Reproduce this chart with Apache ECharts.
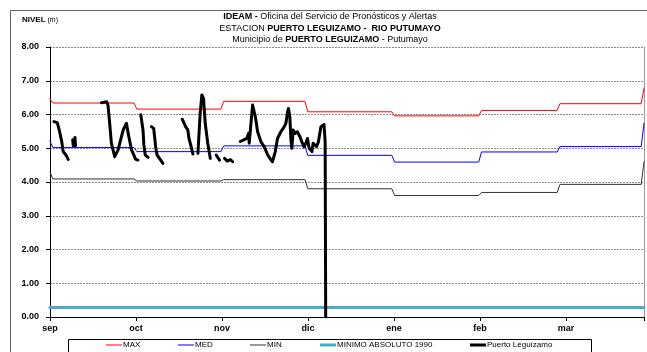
<!DOCTYPE html>
<html>
<head>
<meta charset="utf-8">
<script src="https://cdn.jsdelivr.net/npm/echarts@6/dist/echarts.min.js"></script>
<style>
  html, body { margin: 0; padding: 0; background: #fff; }
  #chart { width: 647px; height: 352px; }
</style>
</head>
<body>
<div id="chart"></div>
<script>
// x is counted in days from the start of the hydrological window (31 ago = 0)
const tickDays = 30.69
const lastDay = 212
const monthLabels = ['sep', 'oct', 'nov', 'dic', 'ene', 'feb', 'mar']
const monthFirstDay = [1, 31, 62, 92, 123, 154, 182]
const monthLastDay = [30, 61, 91, 122, 153, 181, 211]

// monthly statistics (m) and the readings on the first / last day of the window
const maxMonthly = [6.34, 6.16, 6.39, 6.08, 5.96, 6.12, 6.32]
const maxEdges = [6.46, 6.78]
const medMonthly = [5.02, 4.90, 5.07, 4.79, 4.59, 4.89, 5.05]
const medEdges = [5.21, 5.74]
const minMonthly = [4.09, 4.03, 4.07, 3.80, 3.60, 3.69, 3.93]
const minEdges = [4.30, 4.60]
const minAbs1990 = 0.28

// observed levels, Puerto Leguizamo (null = no reading)
const obsDays = [
  1.4, 2.6, 3.3, 4.2, 4.7, 5.7, 6.5, 7.3,
  8.1, 8.3, 8.6, 8.9, 9.1, 12,
  18.4, 20.2, 20.7, 21.3, 21.9, 23.1, 24.3, 26.1, 27.3, 27.9, 29.1, 30.6, 31.4, 31.9,
  32.4, 33.2, 33.5, 34.0, 35.0, 35.6,
  36.2, 37.0, 37.4, 37.7, 38.2, 39.5, 40.3, 44,
  47.2, 47.7, 48.4, 49.2, 49.6, 50.4, 51.0, 52,
  52.8, 53.6, 54.2, 54.8, 55.4, 56.3, 57.2, 58,
  59.3, 60.5, 61,
  62.3, 63.3, 64.4, 65.2, 67,
  67.9, 69.0, 70.2, 70.9, 71.1, 72.3, 72.9, 73.3, 74.1, 75.3, 76.5, 77.7, 78.5, 79.4,
  80.4, 81.2, 82.4, 83.6, 84.2, 84.8, 85.1, 85.6, 86.0, 86.3, 86.8, 87.5, 88.3, 89.2,
  89.9, 90.7, 91.3, 91.9, 92.5, 93.5, 93.9, 95.1, 95.8, 96.7, 97.8, 98.2, 98.4
]
const obsLevels = [
  5.79, 5.76, 5.54, 5.19, 4.90, 4.80, 4.67, null,
  5.25, 5.08, null, 5.32, 5.08, null,
  6.35, 6.38, 6.28, 5.74, 5.15, 4.75, 4.95, 5.54, 5.74, 5.44, 4.95, 4.67, 4.65, null,
  5.99, 5.54, 5.10, 4.80, 4.73, null,
  5.64, 5.59, 5.29, 5.04, 4.80, 4.65, 4.55, null,
  5.86, 5.89, 5.64, 5.54, 5.29, 5.04, 4.83, null,
  4.85, 6.04, 6.58, 6.48, 5.74, 5.15, 4.70, null,
  4.80, 4.65, null,
  4.70, 4.62, 4.66, 4.60, null,
  5.20, 5.24, 5.29, 5.44, 5.15, 6.28, 6.33, 5.93, 5.49, 5.19, 5.04, 4.80, 4.70, 4.60,
  4.90, 5.29, 5.49, 5.64, 5.74, 6.08, 6.18, 5.93, 5.24, 5.00, 5.54, 5.44, 5.49, 5.34,
  5.19, 5.04, 5.15, 5.29, 5.00, 4.90, 5.15, 5.05, 5.19, 5.64, 5.70, 5.20, 0
]

const FONT = 'Liberation Sans, Arial, sans-serif'

function monthlySteps (monthly, edges) {
  const pts = [[0, edges[0]]]
  monthly.forEach((v, i) => {
    pts.push([monthFirstDay[i], v])
    pts.push([monthLastDay[i], v])
  })
  pts.push([lastDay, edges[1]])
  return pts
}

const obsData = obsDays.map((d, i) => [d, obsLevels[i] == null ? '-' : obsLevels[i]])

function lineSeries (name, data, color, width) {
  return {
    name: name,
    type: 'line',
    data: data,
    showSymbol: false,
    symbol: 'none',
    silent: true,
    lineStyle: { color: color, width: width, cap: 'round', join: 'round' },
    itemStyle: { color: color },
    emphasis: { disabled: true }
  }
}

function legendAt (name, left, height) {
  return {
    data: [name],
    left: left,
    top: 341,
    icon: 'rect',
    itemWidth: 16,
    itemHeight: height,
    padding: 0,
    selectedMode: false,
    textStyle: { fontFamily: FONT, fontSize: 8, color: '#000', padding: [0, 0, 0, -4] }
  }
}

const chart = echarts.init(document.getElementById('chart'))
chart.setOption({
  animation: false,
  backgroundColor: '#fff',
  textStyle: { fontFamily: FONT },
  title: [
    {
      text: '{b|IDEAM -} Oficina del Servicio de Pronósticos y Alertas\nESTACION {b|PUERTO LEGUIZAMO -  RIO PUTUMAYO}\nMunicipio de {b|PUERTO LEGUIZAMO} - Putumayo',
      left: 330,
      top: 11,
      textAlign: 'center',
      padding: 0,
      textStyle: {
        fontFamily: FONT,
        fontSize: 9,
        fontWeight: 'normal',
        color: '#000',
        lineHeight: 11.5,
        rich: {
          b: { fontFamily: FONT, fontSize: 9, fontWeight: 'bold', color: '#000', lineHeight: 11.5 }
        }
      }
    },
    {
      text: '{b|NIVEL} (m)',
      left: 22,
      top: 16,
      padding: 0,
      textStyle: {
        fontFamily: FONT,
        fontSize: 7,
        fontWeight: 'normal',
        color: '#000',
        rich: { b: { fontFamily: FONT, fontSize: 8, fontWeight: 'bold', color: '#000' } }
      }
    }
  ],
  legend: [
    legendAt('MAX', 106, 1),
    legendAt('MED', 178, 1),
    legendAt('MIN', 250, 1),
    legendAt('MINIMO ABSOLUTO 1990', 320, 3),
    legendAt('Puerto Leguízamo', 470, 3)
  ],
  grid: { left: 50, right: 1, top: 47, bottom: 35, containLabel: false },
  xAxis: {
    type: 'value',
    min: 0,
    max: lastDay,
    interval: tickDays,
    axisLine: { show: true, lineStyle: { color: '#000', width: 1 } },
    axisTick: { show: true, length: 4, lineStyle: { color: '#000' } },
    splitLine: { show: false },
    axisLabel: {
      margin: 7,
      fontFamily: FONT,
      fontSize: 9,
      fontWeight: 'bold',
      color: '#000',
      formatter: (v) => monthLabels[Math.round(v / tickDays)] || ''
    }
  },
  yAxis: [
    {
      type: 'value',
      min: 0,
      max: 8,
      interval: 1,
      axisLine: { show: true, lineStyle: { color: '#000', width: 1 } },
      axisTick: { show: true, length: 4, lineStyle: { color: '#000' } },
      splitLine: { show: true, lineStyle: { color: '#8c8c8c', type: [2, 1], width: 1 } },
      axisLabel: {
        margin: 11,
        fontFamily: FONT,
        fontSize: 9,
        fontWeight: 'bold',
        color: '#000',
        formatter: (v) => v.toFixed(2)
      }
    },
    {
      type: 'value',
      min: 0,
      max: 8,
      position: 'right',
      axisLine: { show: true, lineStyle: { color: '#999', width: 1 } },
      axisTick: { show: false },
      axisLabel: { show: false },
      splitLine: { show: false }
    }
  ],
  graphic: [
    {
      type: 'rect',
      silent: true,
      shape: { x: 10.5, y: 10.5, width: 700, height: 400 },
      style: { fill: 'none', stroke: '#666', lineWidth: 1 }
    },
    {
      type: 'rect',
      silent: true,
      shape: { x: 68.5, y: 339.5, width: 523, height: 30 },
      style: { fill: 'none', stroke: '#000', lineWidth: 1 }
    }
  ],
  series: [
    lineSeries('MAX', monthlySteps(maxMonthly, maxEdges), '#ff0000', 1),
    lineSeries('MED', monthlySteps(medMonthly, medEdges), '#0000ff', 1),
    lineSeries('MIN', monthlySteps(minMonthly, minEdges), '#333333', 1),
    lineSeries('MINIMO ABSOLUTO 1990', [[0, minAbs1990], [lastDay, minAbs1990]], '#4bacc6', 3),
    lineSeries('Puerto Leguízamo', obsData, '#000000', 3)
  ]
})
</script>
</body>
</html>
